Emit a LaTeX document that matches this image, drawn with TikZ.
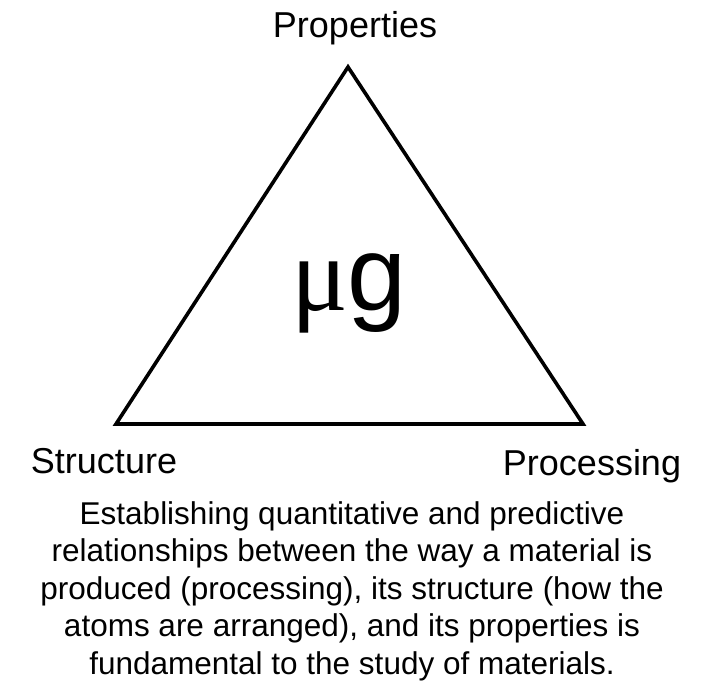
\documentclass[tikz,border=0pt]{standalone}
\usepackage{fontspec}
\setmainfont{Liberation Sans}
\newfontfamily\mufont{Liberation Serif}
\usetikzlibrary{positioning}
\tikzset{
  corner/.style={font=\fontsize{36}{40}\selectfont,anchor=base,inner sep=0pt},
  unit/.style={font=\fontsize{106}{110}\selectfont,anchor=base,inner sep=0pt},
  caption/.style={font=\fontsize{31.5}{37.5}\selectfont,align=center,inner sep=0pt},
  edge/.style={line width=3.6pt,black,line join=miter}
}

\begin{document}
\begin{tikzpicture}[x=1pt,y=-1pt]
\useasboundingbox (0,0) rectangle (708,681);

\coordinate (top) at (348,67);
\coordinate (left) at (116,424);
\coordinate (right) at (583,424);

\draw[edge] (top) -- (left) -- (right) -- cycle;

\node[corner] (prop) at (355,37) {Properties};
\node[corner] (struc) at (104,473) {Structure};
\node[corner] (proc) at (592,475) {Processing};

\node[unit] (mug) at (349,310) {{\mufont μ}g};

\node[caption] (text) at (352,591) {Establishing quantitative and predictive\\
relationships between the way a material is\\
produced (processing), its structure (how the\\
atoms are arranged), and its properties is\\
fundamental to the study of materials.};

\end{tikzpicture}
\end{document}
